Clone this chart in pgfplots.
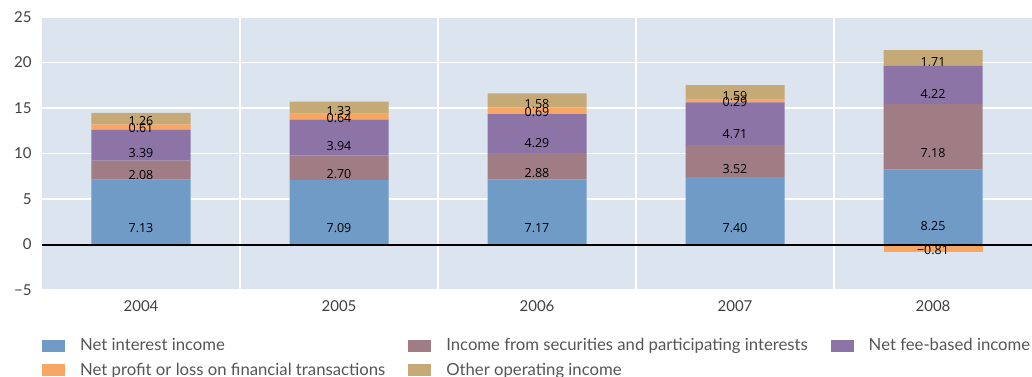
\documentclass[border=0pt]{standalone}
\usepackage{pgfplots}
\usepackage{pgfplotstable}
\pgfplotsset{compat=1.18}
\usepackage{fontspec}
\setmainfont{Lato}
\newfontfamily\labfont{Open Sans}
\definecolor{cblue}{HTML}{6F9BC6}
\definecolor{cmauve}{HTML}{A07D84}
\definecolor{cpurple}{HTML}{8C74A6}
\definecolor{corange}{HTML}{F8A663}
\definecolor{ctan}{HTML}{C5A977}
\definecolor{bgc}{HTML}{DBE4EF}
\definecolor{tickgray}{HTML}{404040}
\definecolor{leggray}{HTML}{555555}

\pgfplotstableread{
x v
0 7.13
1 7.09
2 7.17
3 7.40
4 8.25
}\tni
\pgfplotstableread{
x v
0 2.08
1 2.70
2 2.88
3 3.52
4 7.18
}\tsec
\pgfplotstableread{
x v
0 3.39
1 3.94
2 4.29
3 4.71
4 4.22
}\tfee
\pgfplotstableread{
x v lab
0 0.61 0.61
1 0.64 0.64
2 0.69 0.69
3 0.29 0.29
4 0 {}
}\tfin
\pgfplotstableread{
x v
0 1.26
1 1.33
2 1.58
3 1.59
4 1.71
}\toth
\pgfplotstableread{
x v lab
4 -0.81 −0.81
}\tneg

\pgfplotsset{
  common/.style={
    scale only axis, width=990pt, height=273pt,
    xmin=-0.5, xmax=4.5, ymin=-5, ymax=25,
    bar width=0.5,
    every node near coord/.style={anchor=center, yshift={-2.275*\va}, font=\labfont\fontsize{12.5}{14}\selectfont, text=black, inner sep=0pt},
  },
  lab/.style={
    point meta=explicit symbolic,
    nodes near coords,
    visualization depends on={\thisrow{v} \as \va},
  },
}

\begin{document}
\begin{tikzpicture}
\begin{axis}[common,
  ybar stacked,
  axis background/.style={fill=bgc},
  axis line style={draw=none},
  major tick length=0pt, minor tick length=0pt,
  xtick={0,1,2,3,4}, xticklabels={2004,2005,2006,2007,2008},
  minor xtick={0.5,1.5,2.5,3.5},
  ytick={-5,0,5,10,15,20,25}, yticklabels={−5,0,5,10,15,20,25},
  ymajorgrids, xminorgrids,
  major grid style={white, line width=1.6pt},
  minor grid style={white, line width=1.6pt},
  tick label style={font=\fontsize{15}{18}\selectfont, text=tickgray},
  yticklabel style={anchor=east, xshift=-7pt},
  xticklabel style={anchor=north, yshift=-7pt},
  legend columns=3,
  legend cell align=left,
  legend image code/.code={\fill[#1,draw=none] (0pt,-6pt) rectangle (23pt,6pt);},
  legend style={at={(0,-0.17)}, anchor=north west, draw=none, fill=none,
    font=\fontsize{16.7}{19}\selectfont, text=leggray, inner sep=0pt,
    /tikz/every odd column/.append style={column sep=13pt},
    /tikz/every even column/.append style={column sep=21pt},
    row sep=7pt},
]
\addplot[fill=cblue, draw=none, lab] table[x=x,y=v,meta=v]{\tni};
\addlegendentry{Net interest income}
\addplot[fill=cmauve, draw=none, lab] table[x=x,y=v,meta=v]{\tsec};
\addlegendentry{Income from securities and participating interests}
\addplot[fill=cpurple, draw=none, lab] table[x=x,y=v,meta=v]{\tfee};
\addlegendentry{Net fee-based income}
\addplot[fill=corange, draw=none, lab] table[x=x,y=v,meta=lab]{\tfin};
\addlegendentry{Net profit or loss on financial transactions}
\addplot[fill=ctan, draw=none, lab] table[x=x,y=v,meta=v]{\toth};
\addlegendentry{Other operating income}
\end{axis}
\begin{axis}[common, ybar, hide axis]
\addplot[fill=corange, draw=none, bar shift=0pt, lab] table[x=x,y=v,meta=lab]{\tneg};
\addplot[sharp plot, black, line width=2pt, no marks] coordinates {(-0.5,0) (4.5,0)};
\end{axis}
\pgfresetboundingbox
\path[use as bounding box] (-42pt,-86pt) rectangle (990pt,290pt);
\end{tikzpicture}
\end{document}
